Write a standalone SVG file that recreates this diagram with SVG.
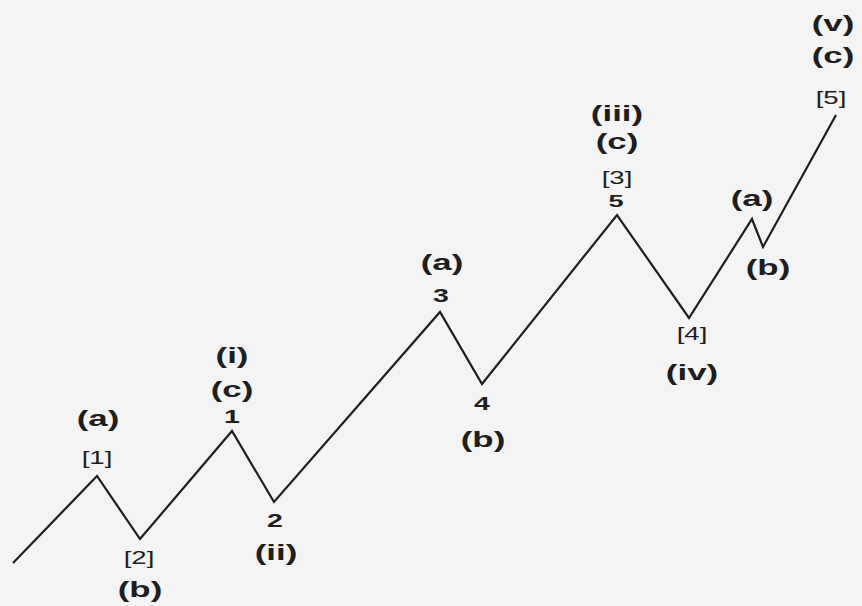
<svg xmlns="http://www.w3.org/2000/svg" width="862" height="606" viewBox="0 0 862 606">
<style>
.bg{fill:#f4f4f4}
.wave{fill:none;stroke:#1e1e1e;stroke-width:2.2;stroke-linejoin:miter}
text{font-family:"Liberation Sans",Arial,sans-serif;fill:#1e1e1e;text-anchor:middle}
.lb{font-weight:bold;font-size:22.5px}
.num{font-weight:bold;font-size:19px}
.br{font-size:19px}
</style>
<rect class="bg" x="0" y="0" width="862" height="606"/>
<g id="connectors">
<polyline class="wave" points="13,563 97,476 140,539 232,431 274,502 440,312 482,384 617,215 689,318 752,219 763,247 836,115"/>
</g>
<g id="node-w1"><text class="lb" transform="translate(98,426) scale(1.55,1)">(a)</text><text class="br" transform="translate(97,464) scale(1.45,1)">[1]</text></g>
<g id="node-w2"><text class="br" transform="translate(139,564) scale(1.45,1)">[2]</text><text class="lb" transform="translate(140,597) scale(1.55,1)">(b)</text></g>
<g id="node-i"><text class="lb" transform="translate(232,363) scale(1.55,1)">(i)</text><text class="lb" transform="translate(232,397) scale(1.55,1)">(c)</text><text class="num" transform="translate(232,423) scale(1.5,1)">1</text></g>
<g id="node-ii"><text class="num" transform="translate(275,527) scale(1.5,1)">2</text><text class="lb" transform="translate(276,560) scale(1.55,1)">(ii)</text></g>
<g id="node-3"><text class="lb" transform="translate(442,270) scale(1.55,1)">(a)</text><text class="num" transform="translate(441,302) scale(1.5,1)">3</text></g>
<g id="node-4"><text class="num" transform="translate(482,410) scale(1.5,1)">4</text><text class="lb" transform="translate(483,447) scale(1.55,1)">(b)</text></g>
<g id="node-iii"><text class="lb" transform="translate(617,121) scale(1.55,1)">(iii)</text><text class="lb" transform="translate(617,149) scale(1.55,1)">(c)</text><text class="br" transform="translate(617,184) scale(1.45,1)">[3]</text><text class="num" transform="translate(616,207) scale(1.6,1)" style="font-size:17px">5</text></g>
<g id="node-iv"><text class="br" transform="translate(692,340) scale(1.45,1)">[4]</text><text class="lb" transform="translate(692,380) scale(1.55,1)">(iv)</text></g>
<g id="node-a"><text class="lb" transform="translate(752,206) scale(1.55,1)">(a)</text></g>
<g id="node-b"><text class="lb" transform="translate(768,275) scale(1.55,1)">(b)</text></g>
<g id="node-v"><text class="lb" transform="translate(833,31) scale(1.55,1)">(v)</text><text class="lb" transform="translate(833,63) scale(1.55,1)">(c)</text><text class="br" transform="translate(831,104) scale(1.45,1)">[5]</text></g>
</svg>
